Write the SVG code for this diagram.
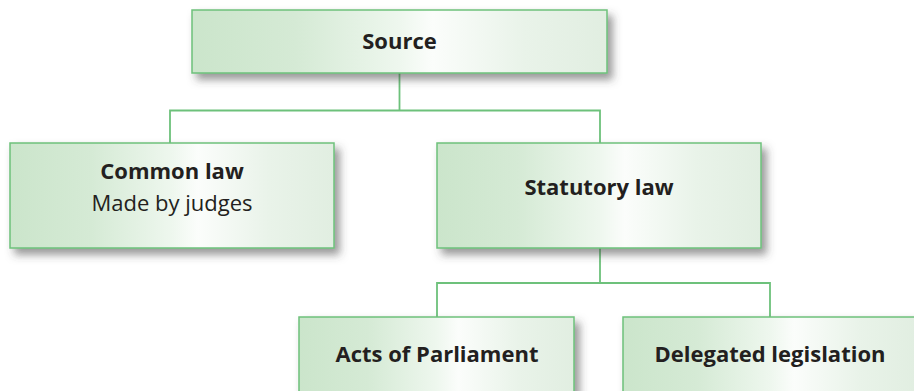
<svg xmlns="http://www.w3.org/2000/svg" width="914" height="391" viewBox="0 0 914 391">
<defs>
<linearGradient id="g" x1="0" y1="0" x2="1" y2="0">
<stop offset="0" stop-color="#cbe5cb"/>
<stop offset="0.25" stop-color="#d5ead5"/>
<stop offset="0.5" stop-color="#eef7ee"/>
<stop offset="0.58" stop-color="#fbfdfb"/>
<stop offset="0.8" stop-color="#e9f3e9"/>
<stop offset="1" stop-color="#e1eee1"/>
</linearGradient>
<filter id="sh" x="-10%" y="-20%" width="130%" height="160%">
<feDropShadow dx="5" dy="6" stdDeviation="4" flood-color="#444" flood-opacity="0.55"/>
</filter>
</defs>
<style>
.box{fill:url(#g);stroke:#6dc17b;stroke-width:1.5;filter:url(#sh)}
.t{font-family:"Open Sans","Noto Sans",sans-serif;font-size:22px;fill:#231f20;text-anchor:middle}
.b{font-weight:bold}
.c{fill:none;stroke:#6dc17b;stroke-width:1.8}
</style>
<g id="connectors">
<path class="c" d="M399.5 73V110.5M170 143V110.5H600V143"/>
<path class="c" d="M600 248V283H437V318M600 283H770V318"/>
</g>
<g id="source">
<rect class="box" x="192" y="10" width="415" height="63"/>
<text class="t b" x="399.5" y="49">Source</text>
</g>
<g id="common-law">
<rect class="box" x="10" y="143" width="324" height="105"/>
<text class="t b" x="172" y="179">Common law</text>
<text class="t" x="172" y="211">Made by judges</text>
</g>
<g id="statutory-law">
<rect class="box" x="437" y="143" width="324" height="105"/>
<text class="t b" x="599" y="195">Statutory law</text>
</g>
<g id="acts">
<rect class="box" x="299" y="317" width="275" height="80"/>
<text class="t b" x="437" y="362">Acts of Parliament</text>
</g>
<g id="delegated">
<rect class="box" x="623" y="317" width="295" height="80"/>
<text class="t b" x="770" y="362">Delegated legislation</text>
</g>
</svg>
